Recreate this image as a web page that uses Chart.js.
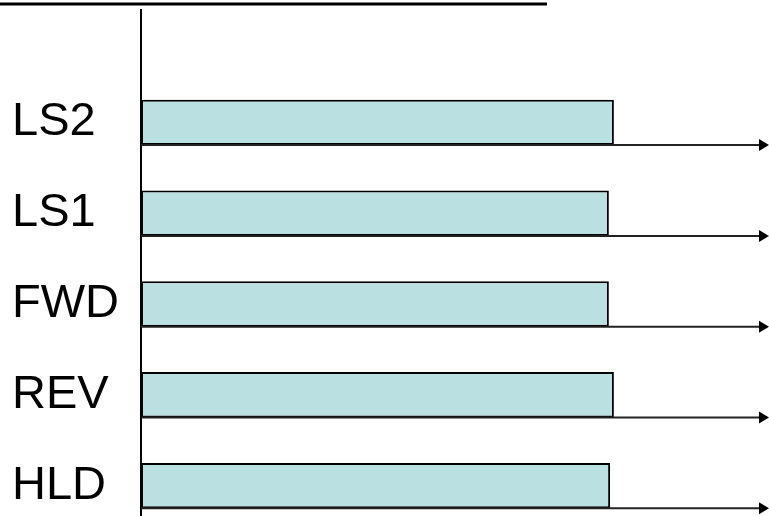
<!DOCTYPE html>
<html>
<head>
<meta charset="utf-8">
<script src="https://cdn.jsdelivr.net/npm/chart.js@4.4.1/dist/chart.umd.min.js"></script>
<style>
    html, body { margin: 0; padding: 0; overflow: hidden; background: #fff; }
    canvas { display: block; }
</style>
</head>
<body>
<!-- taller than the window: the last row runs past the bottom edge -->
<canvas id="mainChart" width="769" height="540"></canvas>
<script>
const SIGNALS = ['LS2', 'LS1', 'FWD', 'REV', 'HLD'];
const DURATIONS = [75.3, 74.5, 74.5, 75.3, 74.7];
const TIME_MAX = 100;

// lines around the bars: top rule, vertical axis, time arrows
const timingLines = {
    id: 'timingLines',
    afterDatasetsDraw(chart) {
        const ctx = chart.ctx;
        const area = chart.chartArea;
        const meta = chart.getDatasetMeta(0);
        ctx.save();
        ctx.strokeStyle = '#000';
        ctx.lineWidth = 3;
        ctx.beginPath();
        ctx.moveTo(0, 4);
        ctx.lineTo(547, 4);
        ctx.stroke();

        ctx.lineWidth = 2;
        ctx.beginPath();
        ctx.moveTo(area.left, 9);
        ctx.lineTo(area.left, chart.height);
        ctx.stroke();

        ctx.strokeStyle = '#222';
        ctx.fillStyle = '#000';
        meta.data.forEach((bar) => {
            const y = bar.y + bar.height / 2;
            ctx.beginPath();
            ctx.moveTo(area.left, y);
            ctx.lineTo(area.right - 9, y);
            ctx.stroke();
            ctx.beginPath();
            ctx.moveTo(area.right, y);
            ctx.lineTo(area.right - 10, y - 6);
            ctx.lineTo(area.right - 10, y + 6);
            ctx.closePath();
            ctx.fill();
        });
        ctx.restore();
    }
};

function createChart(labels, data) {
    const CTX = document.getElementById('mainChart').getContext('2d');
    return new Chart(CTX, {
        type: 'bar',
        data: {
            labels: labels,
            datasets: [{
                data: data,
                backgroundColor: '#bae0e2',
                borderColor: '#000',
                borderWidth: 2,
                borderSkipped: false,
                barPercentage: 0.5,
                categoryPercentage: 1
            }]
        },
        options: {
            indexAxis: 'y',
            responsive: false,
            animation: false,
            layout: { padding: { left: 12, top: 77, bottom: 9, right: 0 } },
            scales: {
                x: { display: false, min: 0, max: TIME_MAX },
                y: {
                    grid: { display: false },
                    border: { display: false },
                    afterFit(scale) {
                        scale.width = 129;
                        // labels sit well inside the area, no extra room needed
                        scale.paddingTop = 0;
                        scale.paddingBottom = 0;
                    },
                    ticks: {
                        crossAlign: 'far',
                        color: '#000',
                        font: { family: 'Liberation Sans', size: 47 }
                    }
                }
            },
            plugins: {
                legend: { display: false },
                tooltip: { enabled: false }
            }
        },
        plugins: [timingLines]
    });
}

createChart(SIGNALS, DURATIONS);
</script>
</body>
</html>
